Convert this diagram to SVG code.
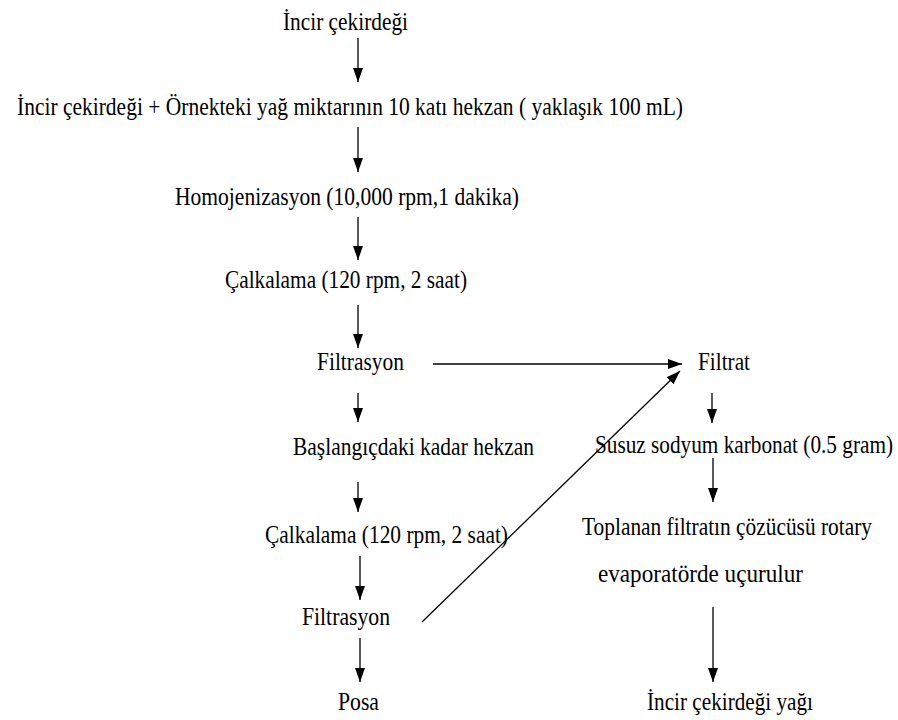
<svg xmlns="http://www.w3.org/2000/svg" width="898" height="720" viewBox="0 0 898 720">
<style type="text/css">
.c{stroke:#000;stroke-width:1.3;fill:none}
.t{font-family:"Liberation Serif","Times New Roman",serif;font-size:26px;fill:#000}
</style>
<defs>
<marker id="ah" viewBox="0 0 14 10" refX="14" refY="5" markerWidth="14" markerHeight="10" markerUnits="userSpaceOnUse" orient="auto">
<path d="M0,0 L14,5 L0,10 z" fill="#000"/>
</marker>
</defs>
<rect width="898" height="720" fill="#fff"/>
<g id="connectors">
<line class="c" x1="358" y1="38" x2="358" y2="82" marker-end="url(#ah)"/>
<line class="c" x1="358" y1="127" x2="358" y2="172" marker-end="url(#ah)"/>
<line class="c" x1="358" y1="217" x2="358" y2="260" marker-end="url(#ah)"/>
<line class="c" x1="358" y1="305" x2="358" y2="348" marker-end="url(#ah)"/>
<line class="c" x1="433" y1="364" x2="682" y2="364" marker-end="url(#ah)"/>
<line class="c" x1="358" y1="393" x2="358" y2="422" marker-end="url(#ah)"/>
<line class="c" x1="358" y1="482" x2="358" y2="512" marker-end="url(#ah)"/>
<line class="c" x1="360" y1="556" x2="360" y2="600" marker-end="url(#ah)"/>
<line class="c" x1="360" y1="638" x2="360" y2="682" marker-end="url(#ah)"/>
<line class="c" x1="422" y1="622" x2="680" y2="371" marker-end="url(#ah)"/>
<line class="c" x1="712" y1="393" x2="712" y2="423" marker-end="url(#ah)"/>
<line class="c" x1="713" y1="458" x2="713" y2="502" marker-end="url(#ah)"/>
<line class="c" x1="713" y1="607" x2="713" y2="682" marker-end="url(#ah)"/>
</g>
<g class="t" font-family="Liberation Serif, Times New Roman, serif" font-size="26">
<g id="n1"><text x="283" y="30" textLength="125" lengthAdjust="spacingAndGlyphs">İncir çekirdeği</text></g>
<g id="n2"><text x="17" y="115" textLength="666" lengthAdjust="spacingAndGlyphs">İncir çekirdeği + Örnekteki yağ miktarının 10 katı hekzan ( yaklaşık 100 mL)</text></g>
<g id="n3"><text x="175" y="205" textLength="344" lengthAdjust="spacingAndGlyphs">Homojenizasyon (10,000 rpm,1 dakika)</text></g>
<g id="n4"><text x="225" y="288" textLength="242" lengthAdjust="spacingAndGlyphs">Çalkalama (120 rpm, 2 saat)</text></g>
<g id="n5"><text x="317" y="370" textLength="87" lengthAdjust="spacingAndGlyphs">Filtrasyon</text></g>
<g id="n6"><text x="698" y="370" textLength="52" lengthAdjust="spacingAndGlyphs">Filtrat</text></g>
<g id="n7"><text x="293" y="455" textLength="241" lengthAdjust="spacingAndGlyphs">Başlangıçdaki kadar hekzan</text></g>
<g id="n8"><text x="595" y="453" textLength="298" lengthAdjust="spacingAndGlyphs">Susuz sodyum karbonat (0.5 gram)</text></g>
<g id="n9"><text x="265" y="543" textLength="243" lengthAdjust="spacingAndGlyphs">Çalkalama (120 rpm, 2 saat)</text></g>
<g id="n10"><text x="582" y="535" textLength="290" lengthAdjust="spacingAndGlyphs">Toplanan filtratın çözücüsü rotary</text><text x="598" y="582" textLength="205" lengthAdjust="spacingAndGlyphs">evaporatörde uçurulur</text></g>
<g id="n11"><text x="302" y="625" textLength="88" lengthAdjust="spacingAndGlyphs">Filtrasyon</text></g>
<g id="n12"><text x="338" y="710" textLength="41" lengthAdjust="spacingAndGlyphs">Posa</text></g>
<g id="n13"><text x="647" y="710" textLength="166" lengthAdjust="spacingAndGlyphs">İncir çekirdeği yağı</text></g>
</g>
</svg>
